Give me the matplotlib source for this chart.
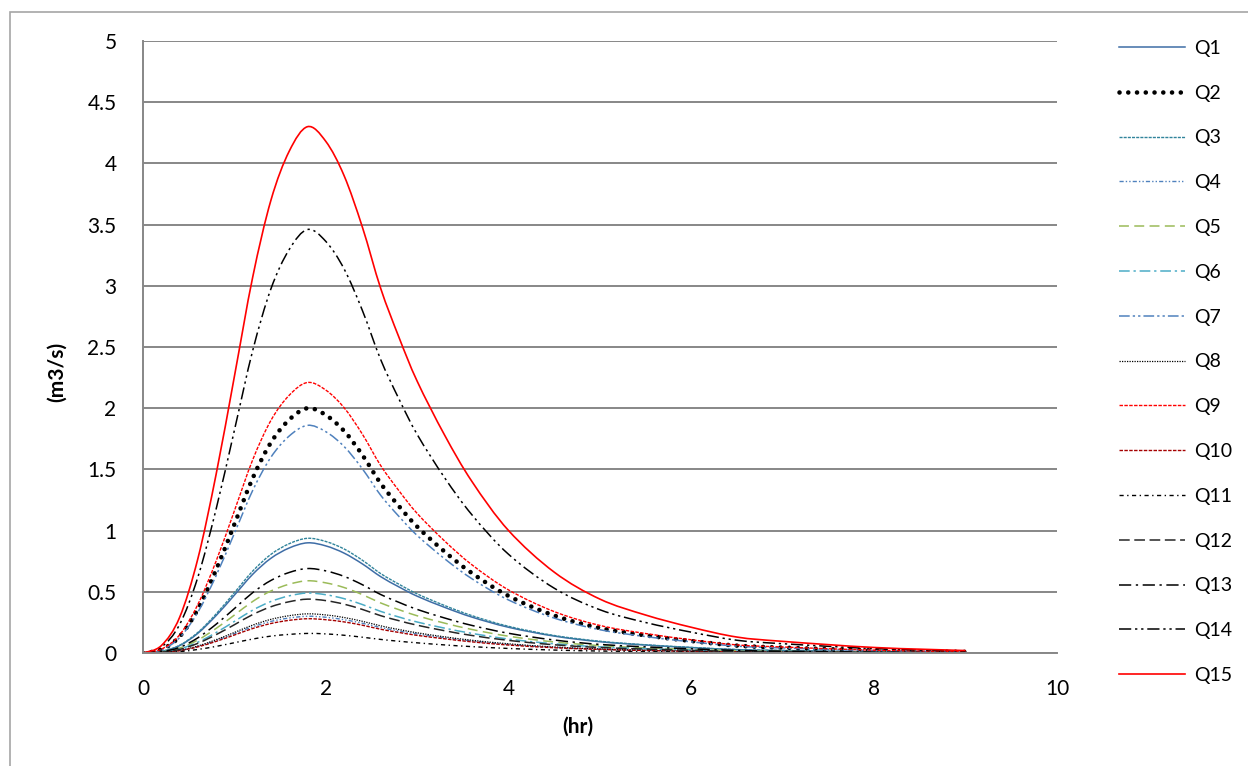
import numpy as np
import matplotlib
matplotlib.use("Agg")
import matplotlib.pyplot as plt
from matplotlib.patches import Rectangle, PathPatch
from matplotlib.path import Path
from matplotlib.lines import Line2D

plt.rcParams['font.family'] = ['Lato', 'DejaVu Sans']

# time (hr)
t = [0, 0.2, 0.4, 0.6, 0.8, 1.0, 1.2, 1.4, 1.6, 1.8, 2.0, 2.2, 2.4, 2.6, 2.8,
     3.0, 3.3, 3.6, 4.0, 4.5, 5.0, 5.5, 6.0, 6.5, 7.0, 8.0, 9.0]

# discharge (m3/s)
q1 = [0, .013, .060, .161, .306, .473, .643, .774, .858, .90, .875, .816, .728, .624, .540,
      .464, .373, .293, .210, .138, .092, .065, .044, .027, .020, .009, .004]
q2 = [0, .028, .134, .358, .680, 1.052, 1.428, 1.720, 1.906, 2.00, 1.944, 1.814, 1.618, 1.386, 1.200,
      1.032, .828, .652, .466, .306, .204, .144, .098, .060, .044, .021, .009]
q3 = [0, .013, .063, .168, .319, .493, .669, .806, .893, .937, .911, .850, .758, .649, .562,
      .483, .388, .305, .218, .143, .096, .067, .046, .028, .021, .010, .004]
q4 = [0, .004, .020, .054, .102, .158, .214, .258, .286, .30, .292, .272, .243, .208, .180,
      .155, .124, .098, .070, .046, .031, .022, .015, .009, .007, .003, .001]
q5 = [0, .008, .040, .106, .201, .310, .421, .507, .562, .59, .573, .535, .477, .409, .354,
      .304, .244, .192, .137, .090, .060, .042, .029, .018, .013, .006, .003]
q6 = [0, .007, .033, .088, .167, .258, .350, .421, .467, .49, .476, .444, .396, .340, .294,
      .253, .203, .160, .114, .075, .050, .035, .024, .015, .011, .005, .002]
q7 = [0, .026, .125, .333, .632, .978, 1.328, 1.600, 1.773, 1.86, 1.808, 1.687, 1.505, 1.289, 1.116,
      .960, .770, .606, .433, .285, .190, .134, .091, .056, .041, .020, .009]
q8 = [0, .004, .021, .057, .109, .168, .228, .275, .305, .32, .311, .290, .259, .222, .192,
      .165, .132, .104, .075, .049, .033, .023, .016, .010, .007, .003, .002]
q9 = [0, .031, .148, .396, .751, 1.162, 1.578, 1.901, 2.106, 2.21, 2.148, 2.004, 1.788, 1.532, 1.326,
      1.140, .915, .720, .515, .338, .225, .159, .108, .066, .049, .023, .010]
q10 = [0, .004, .019, .050, .095, .147, .200, .241, .267, .28, .272, .254, .227, .194, .168,
       .144, .116, .091, .065, .043, .029, .020, .014, .008, .006, .003, .001]
q11 = [0, .002, .011, .029, .054, .084, .114, .138, .152, .16, .156, .145, .129, .111, .096,
       .083, .066, .052, .037, .024, .016, .012, .008, .005, .004, .002, .001]
q12 = [0, .006, .029, .079, .150, .231, .314, .378, .419, .44, .428, .399, .356, .305, .264,
       .227, .182, .143, .103, .067, .045, .032, .022, .013, .010, .005, .002]
q13 = [0, .010, .046, .124, .235, .363, .493, .593, .658, .69, .671, .626, .558, .478, .414,
       .356, .286, .225, .161, .106, .070, .050, .034, .021, .015, .007, .003]
q14 = [0, .048, .232, .619, 1.176, 1.820, 2.470, 2.976, 3.297, 3.46, 3.363, 3.138, 2.799, 2.398, 2.076,
       1.785, 1.432, 1.128, .806, .529, .353, .249, .170, .104, .076, .036, .016]
q15 = [0, .06, .29, .77, 1.46, 2.26, 3.07, 3.70, 4.10, 4.30, 4.18, 3.90, 3.48, 2.98, 2.58,
       2.22, 1.78, 1.40, 1.00, 0.66, 0.44, 0.31, 0.21, 0.13, 0.095, 0.045, 0.02]

names = ["Q1", "Q2", "Q3", "Q4", "Q5", "Q6", "Q7", "Q8", "Q9", "Q10",
         "Q11", "Q12", "Q13", "Q14", "Q15"]
series = [q1, q2, q3, q4, q5, q6, q7, q8, q9, q10, q11, q12, q13, q14, q15]

styles = [
    dict(color="#3e6da6", ls="-", lw=1.1),
    dict(color="black", ls=(0, (0.01, 1.9)), lw=3.3, cap="round"),
    dict(color="#31849b", ls=(0, (2.2, 0.8)), lw=1.0),
    dict(color="#4f81bd", ls=(0, (3, 1.5, 1, 1.5, 1, 1.5)), lw=1.0),
    dict(color="#9bbb59", ls=(0, (6.5, 3.5)), lw=1.1),
    dict(color="#4bacc6", ls=(0, (7, 2.5, 1.5, 2.5)), lw=1.1),
    dict(color="#4f81bd", ls=(0, (7, 2, 1.5, 2, 1.5, 2)), lw=1.1),
    dict(color="black", ls=(0, (1, 1)), lw=0.9),
    dict(color="#ff0000", ls=(0, (2.5, 1)), lw=1.0),
    dict(color="#a50000", ls=(0, (2.5, 1)), lw=1.0),
    dict(color="black", ls=(0, (3, 2.5, 1, 2.5)), lw=1.0),
    dict(color="#262626", ls=(0, (7, 3)), lw=1.1),
    dict(color="black", ls=(0, (8, 3, 1.5, 3)), lw=1.1),
    dict(color="black", ls=(0, (8, 2.5, 1.5, 2.5, 1.5, 2.5)), lw=1.1),
    dict(color="#ff0000", ls="-", lw=1.2),
]


def smooth_path(x, y):
    # Excel-like smoothed line: cubic Bezier through the points (Catmull-Rom)
    p = np.column_stack([x, y]).astype(float)
    ext = np.vstack([p[0], p, p[-1]])
    verts = [p[0]]
    codes = [Path.MOVETO]
    for i in range(len(p) - 1):
        p0, p1, p2, p3 = ext[i], ext[i + 1], ext[i + 2], ext[i + 3]
        verts += [p1 + (p2 - p0) / 6, p2 - (p3 - p1) / 6, p2]
        codes += [Path.CURVE4] * 3
    return Path(verts, codes)


fig = plt.figure(figsize=(12.48, 7.66), dpi=100)
ax = fig.add_axes([143/1248, 1-653/766, 914/1248, 612/766])

handles = []
for name, s, st in zip(names, series, styles):
    cap = st.get("cap", "butt")
    ax.add_patch(PathPatch(smooth_path(t, s), fill=False, edgecolor=st["color"],
                           linestyle=st["ls"], linewidth=st["lw"], capstyle=cap,
                           joinstyle="round"))
    handles.append(Line2D([], [], color=st["color"], ls=st["ls"], lw=st["lw"],
                          dash_capstyle=cap, label=name))

ax.set_xlim(0, 10)
ax.set_ylim(0, 5)
ax.set_xticks(np.arange(0, 11, 2))
ax.set_yticks(np.arange(0, 5.01, 0.5))
ax.set_yticklabels(["0", "0.5", "1", "1.5", "2", "2.5", "3", "3.5", "4", "4.5", "5"])
ax.grid(axis="y", color="#878787", lw=1.4)
ax.set_axisbelow(True)
for sp in ["top", "right"]:
    ax.spines[sp].set_visible(False)
for sp in ["left", "bottom"]:
    ax.spines[sp].set_color("#878787")
    ax.spines[sp].set_linewidth(1.4)
ax.tick_params(length=0, labelsize=15, pad=19, colors="black")

ax.text(-0.094, 0.46, "(m3/s)", transform=ax.transAxes, rotation=90,
        ha="center", va="center", fontsize=15, fontweight="bold")
ax.text(0.476, -0.121, "(hr)", transform=ax.transAxes,
        ha="center", va="center", fontsize=15, fontweight="bold")

fig.legend(handles=handles, loc="upper left", bbox_to_anchor=(1111/1248, 1-32/766),
           frameon=False, fontsize=14, handlelength=3.4, handletextpad=0.5,
           labelspacing=1.43, borderaxespad=0)

fig.patches.append(Rectangle((10/1248, -0.1), 1.2, 1.1 - 12/766, transform=fig.transFigure,
                             fill=False, edgecolor="#a6a6a6", lw=1.2, clip_on=False))

fig.savefig("out.png", dpi=100)
